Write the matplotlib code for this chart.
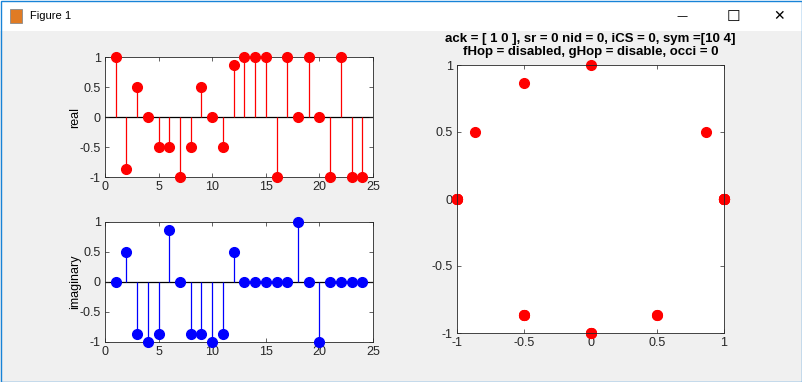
import numpy as np
import matplotlib.pyplot as plt
from matplotlib.patches import Rectangle

plt.rcParams['font.family'] = ['Liberation Sans', 'DejaVu Sans']

# symbol index and complex values
n = np.arange(1, 25)
re_vals = [1, -0.866, 0.5, 0, -0.5, -0.5, -1, -0.5, 0.5, 0, -0.5, 0.866,
           1, 1, 1, -1, 1, 0, 1, 0, -1, 1, -1, -1]
im_vals = [0, 0.5, -0.866, -1, -0.866, 0.866, 0, -0.866, -0.866, -1, -0.866, 0.5,
           0, 0, 0, 0, 0, 1, 0, -1, 0, 0, 0, 0]
title_txt = 'ack = [ 1 0 ], sr = 0 nid = 0, iCS = 0, sym =[10 4]\nfHop = disabled, gHop = disable, occi = 0'

W, H = 802, 382
fig = plt.figure(figsize=(W / 100, H / 100), dpi=100)
fig.patch.set_facecolor('#f0f0f0')

# window title bar
fig.patches.append(Rectangle((0, 1 - 31 / H), 1, 31 / H, transform=fig.transFigure,
                             facecolor='white', edgecolor='none', zorder=0))
fig.patches.append(Rectangle((0.5 / W, 0), 1 - 1 / W, 1 - 0.5 / H, transform=fig.transFigure,
                             facecolor='none', edgecolor='#1883d7', lw=1, zorder=5))
fig.text(30 / W, 1 - 16 / H, 'Figure 1', fontsize=8, va='center', ha='left')
fig.text(682 / W, 1 - 16 / H, '—', fontsize=8, va='center', ha='center', family='DejaVu Sans')
fig.text(733 / W, 1 - 16 / H, '☐', fontsize=11, va='center', ha='center', family='DejaVu Sans')
fig.text(779 / W, 1 - 16 / H, '✕', fontsize=10, va='center', ha='center', family='DejaVu Sans')
fig.patches.append(Rectangle((10 / W, 1 - 23 / H), 12 / W, 14 / H, transform=fig.transFigure,
                             facecolor='#e07b24', edgecolor='#8a8a8a', lw=0.6, zorder=1))


def ax_at(x0, y0, x1, y1):
    a = fig.add_axes([x0 / W, 1 - y1 / H, (x1 - x0) / W, (y1 - y0) / H])
    for s in a.spines.values():
        s.set_color('#262626')
        s.set_linewidth(0.6)
    a.tick_params(direction='in', top=True, right=True, labelsize=9,
                  colors='#262626', length=3, width=0.5, pad=3)
    return a


def stem_plot(a, y, color, label):
    a.axhline(0, color='black', lw=0.9, zorder=1)
    a.vlines(n, 0, y, color=color, lw=0.9, zorder=2)
    a.plot(n, y, 'o', color=color, ms=7, zorder=3, clip_on=False)
    a.set_xlim(0, 25)
    a.set_ylim(-1, 1)
    a.set_xticks([0, 5, 10, 15, 20, 25])
    a.set_yticks([-1, -0.5, 0, 0.5, 1])
    a.set_yticklabels(['-1', '-0.5', '0', '0.5', '1'])
    a.set_ylabel(label, fontsize=9, labelpad=-1)


ax1 = ax_at(105, 57, 373, 177)
stem_plot(ax1, re_vals, 'red', 'real')

ax2 = ax_at(105, 222, 373, 342)
stem_plot(ax2, im_vals, 'blue', 'imaginary')

ax3 = ax_at(457, 65, 724, 333)
ax3.plot(re_vals, im_vals, 'o', color='red', ms=7, clip_on=False)
ax3.set_xlim(-1, 1)
ax3.set_ylim(-1, 1)
ax3.set_xticks([-1, -0.5, 0, 0.5, 1])
ax3.set_xticklabels(['-1', '-0.5', '0', '0.5', '1'])
ax3.set_yticks([-1, -0.5, 0, 0.5, 1])
ax3.set_yticklabels(['-1', '-0.5', '0', '0.5', '1'])
ax3.set_title(title_txt, fontsize=9.5, fontweight='bold', pad=7, linespacing=1.1)

fig.savefig('out.png', dpi=100, facecolor=fig.get_facecolor())
